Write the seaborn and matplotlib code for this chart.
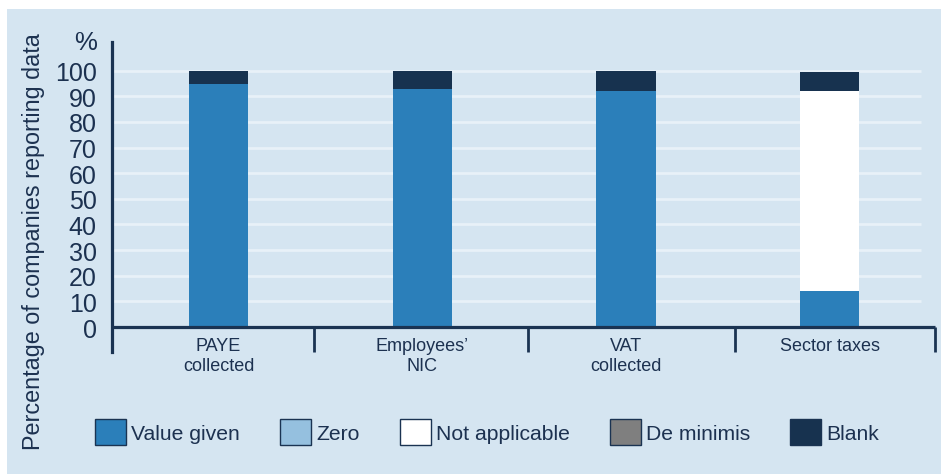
import matplotlib
matplotlib.use("Agg")
import matplotlib.pyplot as plt
from matplotlib.patches import Patch, Rectangle
import seaborn as sns
import pandas as pd

# ---- data ----
categories = ["PAYE\ncollected", "Employees’\nNIC", "VAT\ncollected", "Sector taxes"]
value_given = [95, 93, 92, 14]
zero = [0, 0, 0, 0]
not_applicable = [0, 0, 0, 78]
de_minimis = [0, 0, 0, 0]
blank = [5, 7, 8, 7.5]
series_names = ["Value given", "Zero", "Not applicable", "De minimis", "Blank"]
y_ticks = [0, 10, 20, 30, 40, 50, 60, 70, 80, 90, 100]

# ---- style ----
sns.set_style("white")
plt.rcParams["font.family"] = ["Liberation Sans", "DejaVu Sans"]

navy = "#1a3352"
text_col = "#1c3150"
panel_bg = "#d5e5f1"
grid_col = "#e8f1f8"
colors = ["#2b7fba", "#95c0df", "#ffffff", "#7f7f7f", "#17324f"]

W, H = 941, 477
fig = plt.figure(figsize=(W / 100, H / 100), dpi=100, facecolor="white")
fig.patches.append(Rectangle((7 / W, 2 / H), (W - 7) / W, 465 / H,
                             transform=fig.transFigure, facecolor=panel_bg,
                             edgecolor="none", zorder=-10))

ax = fig.add_axes([112 / W, (H - 353) / H, 823 / W, 310 / H])
ax.set_facecolor("none")

# stacked bars: draw cumulative totals, tallest first
series = [value_given, zero, not_applicable, de_minimis, blank]
cum = [0] * len(categories)
cums = []
for s in series:
    cum = [c + v for c, v in zip(cum, s)]
    cums.append(cum)
for i in range(len(series) - 1, -1, -1):
    d = pd.DataFrame({"category": categories, "total": cums[i]})
    sns.barplot(data=d, x="category", y="total", order=categories,
                color=colors[i], saturation=1, width=0.29, linewidth=0,
                errorbar=None, ax=ax, zorder=3)

xl, xr = -0.523, 3.517
yb, yt = -9.75, 111.2
ax.set_xlim(xl, xr)
ax.set_ylim(yb, yt)

# gridlines
ax.hlines(y_ticks[1:], xl, 3.448, colors=grid_col, linewidth=2, zorder=1)
# x axis line and separators
ax.hlines(0, xl, xr, colors=navy, linewidth=2.3, zorder=4, clip_on=False)
ax.vlines([0.469, 1.519, 2.535, xr], yb, 0, colors=navy, linewidth=2.0,
          zorder=4, clip_on=False)

for s in ["top", "right", "bottom"]:
    ax.spines[s].set_visible(False)
ax.spines["left"].set_color(navy)
ax.spines["left"].set_linewidth(2.3)

ax.set_yticks(y_ticks)
ax.set_yticklabels([str(t) for t in y_ticks], fontsize=18, color=text_col)
ax.tick_params(axis="y", length=0, pad=11)
ax.set_xticks(range(len(categories)))
ax.set_xticklabels(categories, fontsize=13, color=text_col, linespacing=1.2)
ax.tick_params(axis="x", length=0, pad=-10.5)
ax.set_xlabel("")
ax.set_ylabel("")

fig.text(97 / W, 1 - 43 / H, "%", ha="right", va="center", fontsize=18.5,
         color=text_col)
fig.text(34 / W, 1 - 242 / H, "Percentage of companies reporting data",
         rotation=90, ha="center", va="center", fontsize=16.8, color=text_col)

handles = [Patch(facecolor=c, edgecolor=navy, linewidth=1) for c in colors]
fig.legend(handles, series_names, loc="center left",
           bbox_to_anchor=(95 / W, 1 - 433 / H), ncol=5, frameon=False,
           fontsize=15.2, handlelength=1.47, handleheight=1.47,
           handletextpad=0.24, columnspacing=1.9, borderpad=0,
           borderaxespad=0, labelcolor=text_col)

fig.savefig("out.png", dpi=100, facecolor="white")
